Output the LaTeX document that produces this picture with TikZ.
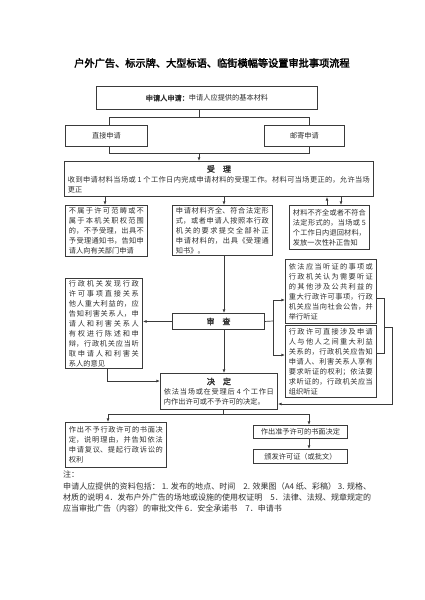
\documentclass[tikz,border=0pt]{standalone}
\usepackage{fontspec}
\setmainfont{Noto Sans CJK SC}[AutoFakeBold=2.5]
\usetikzlibrary{arrows.meta}
\XeTeXlinebreaklocale "zh"
\XeTeXlinebreakskip=0pt plus 1.5pt
\definecolor{linec}{HTML}{3A3A3A}
\definecolor{txt}{HTML}{303030}
\tikzset{
  box/.style={draw=linec, line width=0.9pt, anchor=north west, inner xsep=3.5pt, inner ysep=0pt,
    align=justify, text=txt, font=\fontsize{7.2}{10}\selectfont},
  cbox/.style={draw=linec, line width=0.9pt, anchor=north west, inner sep=0pt,
    align=center, text=txt, font=\fontsize{7.2}{10}\selectfont},
  arr/.style={draw=linec, line width=0.7pt, -{Latex[length=3.6pt,width=2.8pt]}},
  ln/.style={draw=linec, line width=0.7pt},
  hd/.style={font=\fontsize{8}{10}\selectfont\bfseries}
}
\begin{document}
\begin{tikzpicture}[x=1pt,y=-1pt]
\useasboundingbox[fill=white] (0,0) rectangle (424,600);

\node[font=\fontsize{10.2}{12}\selectfont\bfseries, text=black] (title) at (212,63)
  {户外广告、标示牌、大型标语、临街横幅等设置审批事项流程};

\node[cbox, minimum width=221pt, minimum height=23pt] (app) at (96,86)
  {\textbf{申请人申请：}申请人应提供的基本材料};

\node[cbox, minimum width=82pt, minimum height=21pt] (direct) at (65,125) {直接申请};
\node[cbox, minimum width=80pt, minimum height=21pt] (mail) at (264,125) {邮寄申请};

\node[box, minimum height=35pt, text width=302pt] (accept) at (64,161)
  {\makebox[\linewidth]{\textbf{\fontsize{8}{10}\selectfont 受\hspace{1em}理}}\par
   收到申请材料当场或 1 个工作日内完成申请材料的受理工作。材料可当场更正的，允许当场\linebreak
   更正};

\node[box, minimum height=51pt, text width=75pt] (no) at (65,205)
  {不属于许可范畴或不\linebreak 属于本机关职权范围\linebreak 的，不予受理，出具不\linebreak
   予受理通知书，告知申\linebreak 请人向有关部门申请};

\node[box, minimum height=50pt, text width=93pt] (yes) at (172,205)
  {申请材料齐全、符合法定形\linebreak 式，或者申请人按照本行政\linebreak 机关的要求提交全部补正\linebreak
   申请材料的，出具《受理通\linebreak 知书》。};

\node[box, minimum height=44pt, text width=73pt] (insuf) at (289,205)
  {材料不齐全或者不符合\linebreak 法定形式的，当场或 5\linebreak 个工作日内退回材料，\linebreak
   发放一次性补正告知};

\node[cbox, minimum width=92pt, minimum height=16pt] (review) at (172,313)
  {\textbf{\fontsize{8}{10}\selectfont 审\hspace{1em}查}};

\node[box, minimum height=90pt, text width=70pt] (left2) at (65,278)
  {行政机关发现行政\linebreak 许可事项直接关系\linebreak 他人重大利益的，应\linebreak
   告知利害关系人，申\linebreak 请人和利害关系人\linebreak 有权进行陈述和申\linebreak
   辩，行政机关应当听\linebreak 取申请人和利害关\linebreak 系人的意见};

\node[box, minimum height=64pt, text width=84pt] (right1) at (285,259)
  {依法应当听证的事项或\linebreak 行政机关认为需要听证\linebreak 的其他涉及公共利益的\linebreak
   重大行政许可事项，行政\linebreak 机关应当向社会公告，并\linebreak 举行听证};

\node[box, minimum height=72pt, text width=84pt] (right2) at (285,325)
  {行政许可直接涉及申请\linebreak 人与他人之间重大利益\linebreak 关系的，行政机关应告知\linebreak
   申请人、利害关系人享有\linebreak 要求听证的权利；依法要\linebreak 求听证的，行政机关应当\linebreak
   组织听证};

\node[box, minimum height=36pt, text width=110pt] (decide) at (160,373)
  {\makebox[\linewidth]{\textbf{\fontsize{8}{10}\selectfont 决\hspace{1em}定}}\par
   依法当场或在受理后 4 个工作日\linebreak 内作出许可或不予许可的决定。};

\node[box, minimum height=45pt, text width=94pt] (refuse) at (65,422)
  {作出不予行政许可的书面决\linebreak 定，说明理由，并告知依法\linebreak
   申请复议、提起行政诉讼的\linebreak 权利};

\node[cbox, minimum width=94pt, minimum height=13pt] (grant) at (253,425) {作出准予许可的书面决定};
\node[cbox, minimum width=94pt, minimum height=14pt] (license) at (253,449) {颁发许可证（或批文）};

\node[anchor=north west, inner sep=0pt, text width=308pt, align=justify, text=txt,
      font=\fontsize{8}{11.3}\selectfont] (notes) at (63,471)
  {注：\par
   申请人应提供的资料包括： 1. 发布的地点、时间\quad 2. 效果图（A4 纸、彩稿） 3. 规格、\linebreak
   材质的说明 4．发布户外广告的场地或设施的使用权证明\quad 5．法律、法规、规章规定的\linebreak
   应当审批广告（内容）的审批文件 6．安全承诺书\quad 7．申请书};

% junction coordinates
\coordinate (j1) at (199,117);
\coordinate (jl1) at (109,117);
\coordinate (jr1) at (309,117);
\coordinate (j2) at (199,153);
\coordinate (jl2) at (109,153);
\coordinate (jr2) at (309,153);

\draw[ln] (app.south -| j1) -- (j1);
\draw[ln] (jl1) -- (jr1);
\draw[ln] (jl1) -- (jl1 |- direct.north);
\draw[ln] (jr1) -- (jr1 |- mail.north);
\draw[ln] (jl1 |- direct.south) -- (jl2) -- (jr2) -- (jr1 |- mail.south);
\draw[arr] (j2) -- (j2 |- accept.north);

\coordinate (an) at (105,0);
\coordinate (ay) at (224,0);
\coordinate (au) at (327,0);
\coordinate (ad) at (341,0);
\draw[arr] (accept.south -| an) -- (no.north -| an);
\draw[arr] (accept.south -| ay) -- (yes.north -| ay);
\draw[arr] (insuf.north -| au) -- (accept.south -| au);
\draw[arr] (accept.south -| ad) -- (insuf.north -| ad);

\draw[arr] (yes.south -| ay) -- (review.north -| ay);
\draw[arr] (review.west) -- (review.west -| left2.east);

\coordinate (rb) at (273,321);
\coordinate (rt) at (273,300);
\coordinate (rl) at (273,355);
\draw[ln] (review.east) -- (rb);
\draw[ln] (rt) -- (rl);
\draw[arr] (rt) -- (rt -| right1.west);
\draw[arr] (rl) -- (rl -| right2.west);

\coordinate (lb) at (107,381);
\draw[arr] (left2.south -| lb) -- (lb) -- (lb -| decide.west);
\draw[arr] (review.south -| ay) -- (decide.north -| ay);

\coordinate (b1) at (384,298);
\coordinate (b2) at (384,353);
\coordinate (bm) at (384,327);
\coordinate (be) at (392,327);
\coordinate (bd) at (392,404);
\draw[ln] (b1 -| right1.east) -- (b1) -- (b2) -- (b2 -| right2.east);
\draw[arr] (bm) -- (be) -- (bd) -- (bd -| decide.east);

\coordinate (d1) at (223,414);
\coordinate (dl) at (108,414);
\coordinate (dr) at (309,414);
\draw[ln] (decide.south -| d1) -- (d1);
\draw[ln] (dl) -- (dr);
\draw[arr] (dl) -- (dl |- refuse.north);
\draw[arr] (dr) -- (dr |- grant.north);
\draw[arr] (grant.south -| dr) -- (license.north -| dr);
\end{tikzpicture}
\end{document}
